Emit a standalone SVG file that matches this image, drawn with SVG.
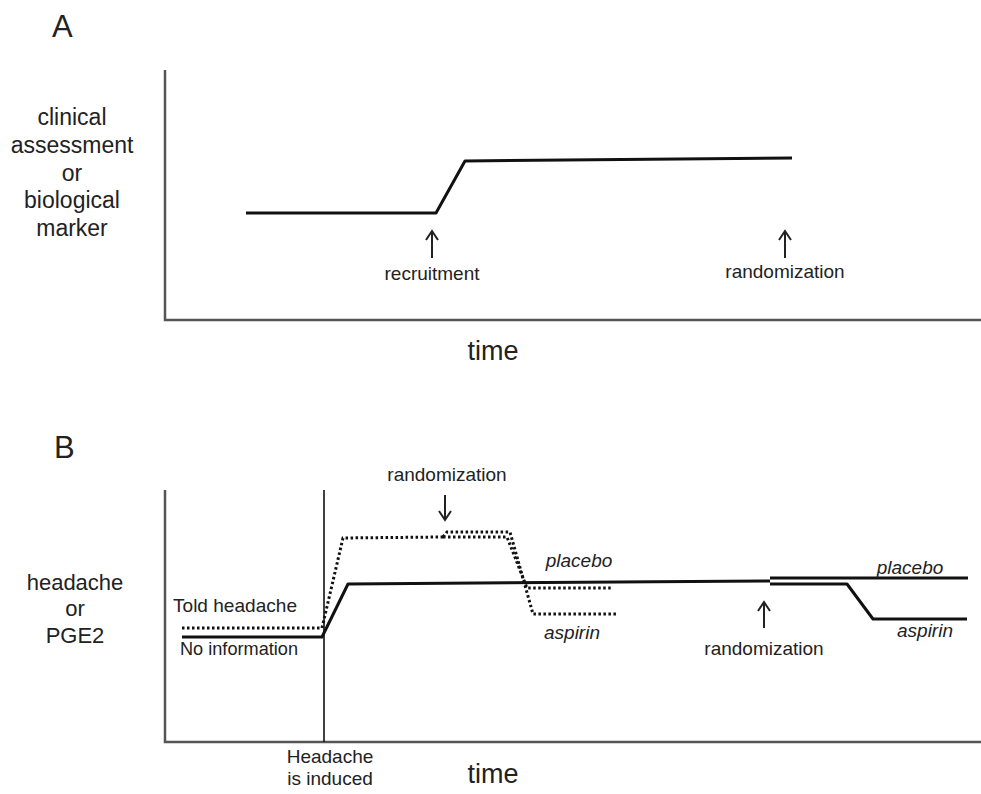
<svg xmlns="http://www.w3.org/2000/svg" width="981" height="794" viewBox="0 0 981 794">
<defs>
<style>
text{font-family:"Liberation Sans",Arial,sans-serif;fill:#222}
.lbl{font-size:19px}
.big{font-size:27px}
.pan{font-size:31px}
.ax{fill:none;stroke:#555;stroke-width:2.5}
.data{fill:none;stroke:#111;stroke-width:3;stroke-linejoin:round}
.dot{fill:none;stroke:#111;stroke-width:3;stroke-dasharray:2.5 2.5}
.arr{fill:none;stroke:#222;stroke-width:2}
.it{font-style:italic}
</style>
</defs>
<rect width="981" height="794" fill="#fff"/>

<g id="panelA">
<text class="pan" x="52" y="37">A</text>
<g id="ylabelA" font-size="23" text-anchor="middle">
<text x="72" y="125" style="font-size:23px">clinical</text>
<text x="72" y="153" style="font-size:23px">assessment</text>
<text x="72" y="181" style="font-size:23px">or</text>
<text x="72" y="208" style="font-size:23px">biological</text>
<text x="72" y="236" style="font-size:23px">marker</text>
</g>
<path class="ax" d="M165,70 V320 H981"/>
<text class="big" x="493" y="360" text-anchor="middle">time</text>
</g>

<g id="connectors">
<path class="data" d="M246,213 H436 L465,161 L792,158"/>
<path class="arr" d="M432,258 V231 M426,240 L432,231 L438,240"/>
<path class="arr" d="M785,258 V231 M779,240 L785,231 L791,240"/>

<path class="ax" d="M165,490 V742 H981"/>
<path fill="none" stroke="#111" stroke-width="1.6" d="M324,490 V742"/>
<path class="dot" d="M182,628 H322 L343,538 L443,537"/>
<path class="dot" d="M443,537 L447,532 H510 L533,614 H617"/>
<path class="dot" d="M443,537 H507 L527,588 H613"/>
<path class="data" d="M182,637 H322 L348,584 L770,581"/>
<path class="data" d="M770,578 H968"/>
<path class="data" d="M770,584 H847 L873,619 H967"/>
<path class="arr" d="M445,495 V520 M439,511 L445,520 L451,511"/>
<path class="arr" d="M764,628 V602 M758,611 L764,602 L770,611"/>
</g>

<g id="panelB">
<text class="pan" x="54" y="458">B</text>
<g id="ylabelB" text-anchor="middle">
<text x="75" y="590" style="font-size:22px">headache</text>
<text x="75" y="616" style="font-size:22px">or</text>
<text x="75" y="643" style="font-size:22px">PGE2</text>
</g>
<text class="lbl" x="173" y="612" textLength="124" lengthAdjust="spacingAndGlyphs">Told headache</text>
<text class="lbl" x="180" y="655" textLength="118" lengthAdjust="spacingAndGlyphs">No information</text>
<text class="lbl" x="447" y="481" text-anchor="middle">randomization</text>
<text class="lbl it" x="579" y="567" text-anchor="middle">placebo</text>
<text class="lbl it" x="572" y="639" text-anchor="middle">aspirin</text>
<text class="lbl it" x="910" y="574" text-anchor="middle">placebo</text>
<text class="lbl it" x="925" y="637" text-anchor="middle">aspirin</text>
<text class="lbl" x="764" y="655" text-anchor="middle">randomization</text>
<text class="lbl" x="330" y="763" text-anchor="middle">Headache</text>
<text class="lbl" x="330" y="785" text-anchor="middle">is induced</text>
<text class="big" x="493" y="783" text-anchor="middle">time</text>
</g>

<g id="labelsA">
<text class="lbl" x="432" y="280" text-anchor="middle">recruitment</text>
<text class="lbl" x="785" y="278" text-anchor="middle">randomization</text>
</g>
</svg>
